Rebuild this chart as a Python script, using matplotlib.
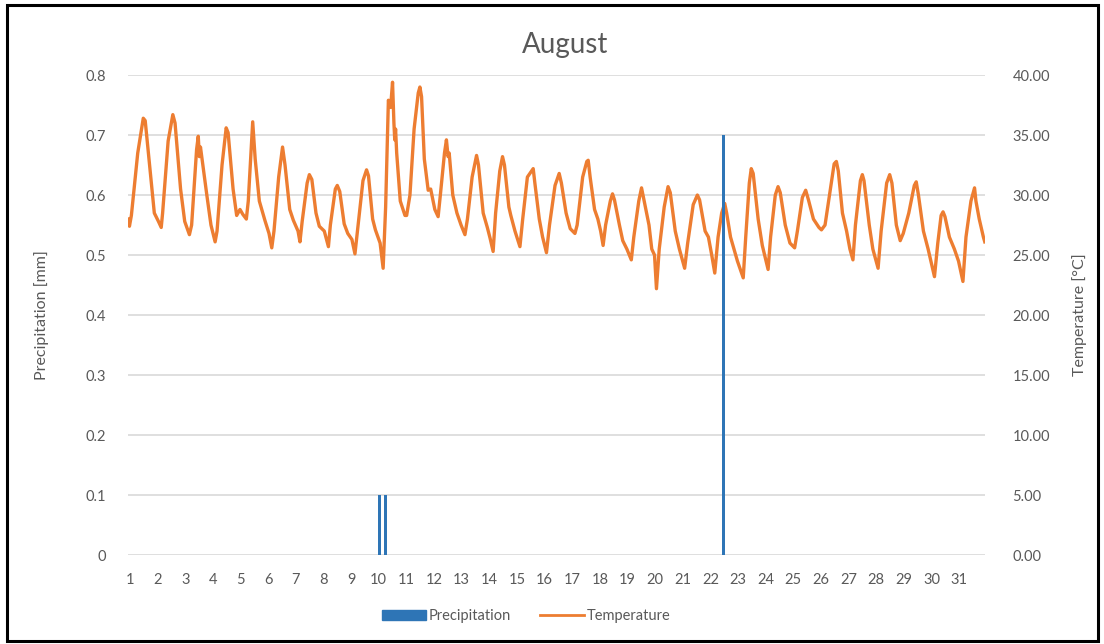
import matplotlib
matplotlib.use("Agg")
import matplotlib.pyplot as plt
from matplotlib.patches import Rectangle, Patch
from matplotlib.lines import Line2D

# ---------------- data ----------------
days = list(range(1, 32))

# precipitation events: time (days since Aug 1 00:00) and amount [mm]
precip_t = [9.10, 9.31, 21.53]
precip_mm = [0.1, 0.1, 0.7]

# temperature key points (time in days, value in °C)
temp_t = [0.00, 0.05, 0.12, 0.35, 0.55, 0.62, 0.80, 0.95, 1.10, 1.20,
          1.25, 1.45, 1.62, 1.70, 1.90, 2.05, 2.22, 2.30, 2.48, 2.54,
          2.58, 2.62, 2.85, 3.00, 3.15, 3.22, 3.40, 3.55, 3.62, 3.80,
          3.93, 4.05, 4.15, 4.28, 4.35, 4.51, 4.60, 4.75, 4.95, 5.10,
          5.20, 5.28, 5.45, 5.59, 5.68, 5.85, 5.98, 6.15, 6.22, 6.30,
          6.48, 6.56, 6.65, 6.80, 6.92, 7.10, 7.25, 7.32, 7.50, 7.57,
          7.66, 7.82, 7.95, 8.10, 8.21, 8.30, 8.50, 8.63, 8.70, 8.85,
          8.95, 9.12, 9.23, 9.32, 9.42, 9.50, 9.57, 9.62, 9.65, 9.68,
          9.72, 9.85, 10.02, 10.08, 10.20, 10.35, 10.50, 10.56, 10.62, 10.72,
          10.86, 10.95, 11.10, 11.22, 11.30, 11.45, 11.52, 11.58, 11.62, 11.75,
          11.90, 12.05, 12.19, 12.28, 12.45, 12.61, 12.68, 12.85, 13.00, 13.10,
          13.21, 13.30, 13.45, 13.55, 13.62, 13.78, 13.85, 14.00, 14.18, 14.28,
          14.45, 14.60, 14.66, 14.72, 14.88, 15.00, 15.14, 15.25, 15.45, 15.60,
          15.68, 15.85, 16.00, 16.17, 16.25, 16.45, 16.60, 16.65, 16.72, 16.88,
          17.00, 17.10, 17.19, 17.28, 17.45, 17.53, 17.60, 17.78, 17.90, 18.05,
          18.21, 18.30, 18.48, 18.58, 18.65, 18.85, 18.95, 19.05, 19.12, 19.22,
          19.40, 19.54, 19.62, 19.80, 19.95, 20.14, 20.25, 20.45, 20.60, 20.68,
          20.88, 21.00, 21.12, 21.23, 21.35, 21.48, 21.59, 21.66, 21.80, 22.05,
          22.26, 22.35, 22.48, 22.55, 22.62, 22.80, 22.95, 23.16, 23.25, 23.42,
          23.52, 23.60, 23.78, 23.95, 24.12, 24.22, 24.40, 24.52, 24.62, 24.80,
          25.00, 25.09, 25.22, 25.35, 25.55, 25.63, 25.70, 25.85, 26.00, 26.12,
          26.23, 26.32, 26.50, 26.57, 26.63, 26.82, 26.95, 27.14, 27.25, 27.45,
          27.56, 27.64, 27.80, 27.94, 28.05, 28.25, 28.45, 28.52, 28.60, 28.78,
          28.95, 29.18, 29.30, 29.42, 29.49, 29.56, 29.72, 29.90, 30.05, 30.21,
          30.32, 30.50, 30.63, 30.68, 30.80, 30.95, 31.00]
temp_c = [28.0, 27.4, 28.3, 33.5, 36.4, 36.2, 32.0, 28.5, 27.8, 27.3,
          28.5, 34.5, 36.7, 36.0, 30.5, 27.8, 26.7, 27.5, 33.8, 34.9,
          33.2, 34.0, 30.0, 27.5, 26.1, 27.0, 32.5, 35.6, 35.2, 30.5,
          28.3, 28.8, 28.4, 28.0, 29.5, 36.1, 33.0, 29.5, 27.9, 26.8,
          25.6, 27.0, 31.5, 34.0, 32.5, 28.8, 27.9, 27.0, 26.1, 27.8,
          31.0, 31.7, 31.3, 28.5, 27.4, 27.0, 25.7, 27.5, 30.5, 30.8,
          30.3, 27.6, 26.8, 26.3, 25.1, 27.0, 31.2, 32.1, 31.6, 28.0,
          27.1, 26.0, 23.9, 29.0, 37.9, 37.3, 39.4, 36.0, 34.6, 35.5,
          33.5, 29.5, 28.3, 28.3, 30.0, 35.5, 38.5, 39.0, 38.2, 33.0,
          30.4, 30.5, 28.8, 28.2, 30.0, 33.5, 34.6, 33.2, 33.5, 30.0,
          28.5, 27.5, 26.7, 28.0, 31.5, 33.3, 32.5, 28.5, 27.3, 26.4,
          25.3, 28.5, 32.0, 33.2, 32.5, 29.0, 28.3, 27.0, 25.7, 28.0,
          31.5, 32.0, 32.2, 31.0, 28.0, 26.5, 25.2, 27.5, 30.8, 31.8,
          31.0, 28.5, 27.2, 26.8, 27.5, 31.5, 32.8, 32.9, 31.5, 28.8,
          28.0, 27.0, 25.8, 27.5, 29.5, 30.1, 29.6, 27.5, 26.2, 25.5,
          24.6, 26.5, 29.5, 30.6, 29.8, 27.5, 25.5, 25.0, 22.2, 25.5,
          29.0, 30.7, 30.2, 27.0, 25.5, 23.9, 26.0, 29.2, 30.0, 29.6,
          27.0, 26.5, 25.0, 23.5, 26.5, 28.5, 29.3, 28.5, 26.5, 24.5,
          23.1, 26.5, 31.0, 32.2, 31.8, 28.0, 25.8, 23.8, 26.5, 30.0,
          30.7, 30.2, 27.5, 26.0, 25.6, 27.0, 29.8, 30.4, 29.6, 28.0,
          27.3, 27.1, 27.5, 29.5, 32.6, 32.8, 32.0, 28.5, 27.0, 25.5,
          24.6, 27.5, 31.2, 31.7, 31.2, 27.5, 25.5, 23.9, 27.0, 31.0,
          31.7, 31.0, 27.5, 26.2, 26.8, 28.5, 30.8, 31.1, 30.0, 27.0,
          25.5, 23.2, 26.0, 28.3, 28.6, 28.2, 26.5, 25.5, 24.5, 22.8,
          26.5, 29.5, 30.6, 29.5, 28.0, 26.5, 26.1]

precip_ticks = [0, 0.1, 0.2, 0.3, 0.4, 0.5, 0.6, 0.7, 0.8]
temp_ticks = [0, 5, 10, 15, 20, 25, 30, 35, 40]

# ---------------- style ----------------
BLUE = "#2E75B6"
ORANGE = "#ED7D31"
TXT = "#595959"
GRID = "#D9D9D9"
plt.rcParams["font.family"] = ["Lato", "DejaVu Sans"]

fig = plt.figure(figsize=(11.04, 6.44), dpi=100)
fig.patch.set_facecolor("white")
ax = fig.add_axes([0.116, 0.138, 0.776, 0.7455])
ax2 = ax.twinx()

# precipitation bars
ax.bar(precip_t, precip_mm, width=0.11, color=BLUE, align="center", zorder=3)
ax.set_ylim(0, 0.8)
ax.set_yticks(precip_ticks)
ax.set_yticklabels(["0" if v == 0 else f"{v:.1f}" for v in precip_ticks])
ax.set_xlim(0, 31)
ax.set_xticks([d - 1 + 0.07 for d in days])
ax.set_xticklabels([str(d) for d in days])

# temperature line
ax2.plot(temp_t, temp_c, color=ORANGE, linewidth=2.4, zorder=4)
ax2.set_ylim(0, 40)
ax2.set_yticks(temp_ticks)
ax2.set_yticklabels([f"{v:.2f}" for v in temp_ticks])

# bars in front of the line like the reference
ax2.set_zorder(ax.get_zorder() - 1)
ax.patch.set_visible(False)
ax2.patch.set_visible(True)
ax2.patch.set_facecolor("white")
ax.grid(False)
ax2.grid(False)
for v in precip_ticks:
    ax2.axhline(v * 50, color=GRID, linewidth=1.2, zorder=0)

for a in (ax, ax2):
    for s in a.spines.values():
        s.set_visible(False)
    a.tick_params(length=0, colors=TXT, labelsize=10.5)
ax.tick_params(axis="y", pad=16)
ax.tick_params(axis="x", pad=13)
ax2.tick_params(axis="y", pad=20)

ax.set_ylabel("Precipitation [mm]", color=TXT, fontsize=11.5, labelpad=26)
ax2.set_ylabel("Temperature [°C]", color=TXT, fontsize=11.5, labelpad=16)

fig.text(0.512, 0.93, "August", ha="center", va="center", color=TXT, fontsize=20)

handles = [Patch(facecolor=BLUE, edgecolor=BLUE),
           Line2D([0], [0], color=ORANGE, linewidth=2.0)]
fig.legend(handles, ["Precipitation", "Temperature"], loc="center",
           bbox_to_anchor=(0.477, 0.043), ncol=2, frameon=False,
           fontsize=10.5, labelcolor=TXT, handlelength=3.0, handletextpad=0.2,
           columnspacing=2.0)

fig.add_artist(Rectangle((0.006, 0.005), 0.989, 0.987, transform=fig.transFigure,
                         fill=False, edgecolor="black", linewidth=2.2))

fig.savefig("out.png", dpi=100)
